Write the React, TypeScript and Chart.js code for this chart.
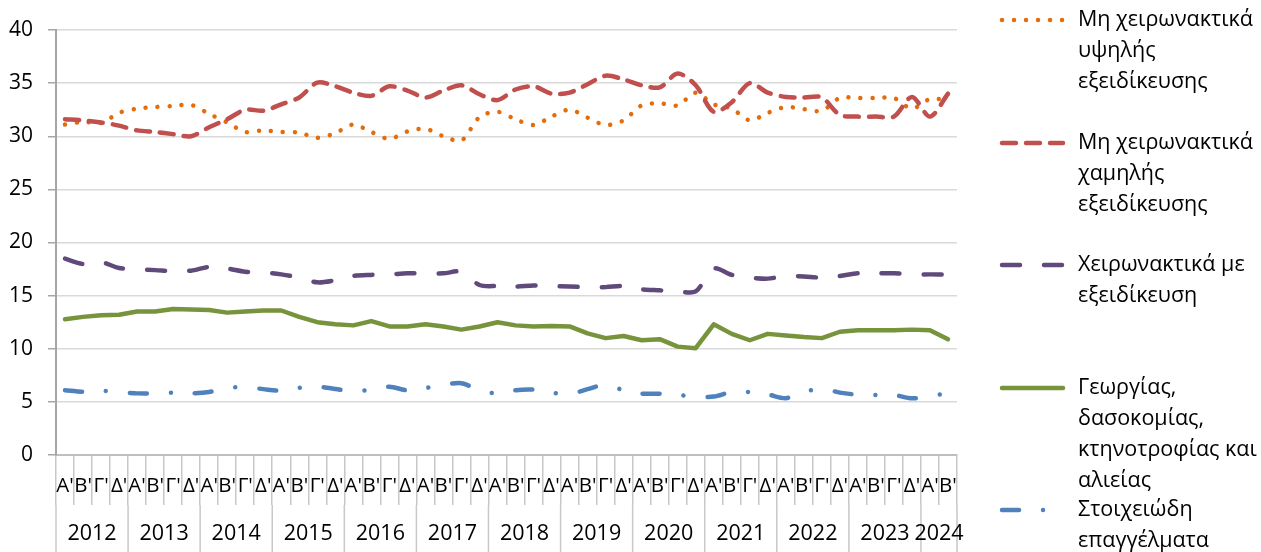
import React, { useEffect, useRef } from 'react';
import { Chart, registerables } from 'chart.js';

Chart.register(...registerables);

// ---- Data ----
const years = ['2012', '2013', '2014', '2015', '2016', '2017', '2018', '2019', '2020', '2021', '2022', '2023', '2024'];
const quartersPerYear = [4, 4, 4, 4, 4, 4, 4, 4, 4, 4, 4, 4, 2];
const quarterNames = ["Α'", "Β'", "Γ'", "Δ'"];
const quarterLabels = years.flatMap((_, k) => quarterNames.slice(0, quartersPerYear[k]));

const highSkillNonManual = [
  31.1, 31.35, 31.25, 32.2, 32.6, 32.75, 32.85, 32.95, 32.1, 31.3, 30.4, 30.55,
  30.4, 30.35, 29.85, 30.3, 31.1, 30.4, 29.75, 30.45, 30.7, 30.0, 29.6, 31.8,
  32.3, 31.6, 31.05, 31.85, 32.5, 31.75, 31.05, 31.5, 32.9, 33.1, 32.9, 34.1,
  33.0, 32.6, 31.5, 32.2, 32.75, 32.55, 32.4, 33.6, 33.6, 33.6, 33.6, 32.6,
  33.5, 33.4,
];
const lowSkillNonManual = [
  31.6, 31.5, 31.3, 31.0, 30.55, 30.4, 30.2, 30.0, 30.85, 31.6, 32.5, 32.4,
  33.0, 33.65, 35.05, 34.7, 34.1, 33.8, 34.7, 34.3, 33.65, 34.3, 34.8, 33.95,
  33.4, 34.4, 34.7, 34.0, 34.1, 34.9, 35.7, 35.35, 34.8, 34.6, 35.9, 34.8,
  32.3, 33.2, 35.0, 34.1, 33.7, 33.65, 33.65, 32.0, 31.85, 31.85, 31.85, 33.7,
  31.85, 34.0,
];
const skilledManual = [
  18.48, 17.98, 18.15, 17.6, 17.47, 17.4, 17.3, 17.35, 17.7, 17.55, 17.25, 17.2,
  17.0, 16.7, 16.25, 16.45, 16.85, 16.95, 17.0, 17.1, 17.1, 17.1, 17.25, 16.0,
  15.9, 15.85, 15.95, 15.9, 15.85, 15.8, 15.8, 15.9, 15.6, 15.5, 15.4, 15.4,
  17.55, 16.95, 16.7, 16.6, 16.85, 16.8, 16.7, 16.85, 17.1, 17.1, 17.1, 17.0,
  17.0, 17.0,
];
const agriculture = [
  12.77, 13.0, 13.15, 13.2, 13.5, 13.5, 13.74, 13.7, 13.65, 13.4, 13.5, 13.6,
  13.6, 13.0, 12.5, 12.3, 12.2, 12.6, 12.1, 12.1, 12.3, 12.1, 11.8, 12.1,
  12.5, 12.2, 12.1, 12.15, 12.1, 11.45, 11.0, 11.2, 10.8, 10.9, 10.2, 10.05,
  12.3, 11.4, 10.8, 11.4, 11.25, 11.1, 11.0, 11.6, 11.75, 11.75, 11.75, 11.8,
  11.75, 10.9,
];
const elementary = [
  6.1, 5.96, 6.05, 5.93, 5.8, 5.8, 5.87, 5.8, 5.93, 6.3, 6.4, 6.2,
  6.05, 6.33, 6.43, 6.22, 5.96, 6.18, 6.43, 6.09, 6.3, 6.6, 6.75, 6.1,
  5.8, 6.1, 6.15, 5.87, 5.74, 6.2, 6.6, 6.09, 5.78, 5.77, 5.65, 5.5,
  5.5, 5.93, 5.93, 5.7, 5.35, 5.93, 6.24, 5.87, 5.68, 5.65, 5.65, 5.33,
  5.58, 5.8,
];

const seriesNames = [
  ['Μη χειρωνακτικά', 'υψηλής', 'εξειδίκευσης'],
  ['Μη χειρωνακτικά', 'χαμηλής', 'εξειδίκευσης'],
  ['Χειρωνακτικά με', 'εξειδίκευση'],
  ['Γεωργίας,', 'δασοκομίας,', 'κτηνοτροφίας και', 'αλιείας'],
  ['Στοιχειώδη', 'επαγγέλματα'],
];

const FONT = "'Open Sans', 'Noto Sans', sans-serif";

// Year grouping + separators under the category axis
const yearAxisPlugin = {
  id: 'yearAxis',
  afterDraw(chart: any) {
    const ctx = chart.ctx;
    const xs = chart.scales.x;
    const half = (xs.getPixelForValue(1) - xs.getPixelForValue(0)) / 2;
    const top = chart.chartArea.bottom + 50;
    const bottom = chart.height;
    ctx.save();
    ctx.strokeStyle = '#c8c8c8';
    ctx.lineWidth = 1.5;
    ctx.fillStyle = '#000';
    ctx.font = `21.5px ${FONT}`;
    ctx.textAlign = 'center';
    ctx.textBaseline = 'middle';
    let start = 0;
    years.forEach((yr, k) => {
      const n = quartersPerYear[k];
      const l = xs.getPixelForValue(start) - half;
      const r = xs.getPixelForValue(start + n - 1) + half;
      ctx.beginPath();
      ctx.moveTo(l, top);
      ctx.lineTo(l, bottom);
      if (k === years.length - 1) {
        ctx.moveTo(r, top);
        ctx.lineTo(r, bottom);
      }
      ctx.stroke();
      ctx.fillText(yr, (l + r) / 2, chart.chartArea.bottom + 79);
      start += n;
    });
    ctx.restore();
  },
};

// Side legend with wrapped names
const sideLegendPlugin = {
  id: 'sideLegend',
  afterDraw(chart: any) {
    const ctx = chart.ctx;
    const rows = [20, 143, 265, 388, 510];
    const x0 = chart.chartArea.right + 45;
    const x1 = x0 + 61;
    const tx = chart.chartArea.right + 121;
    chart.data.datasets.forEach((ds: any, i: number) => {
      const y = rows[i];
      ctx.save();
      ctx.strokeStyle = ds.borderColor;
      ctx.lineWidth = ds.borderWidth;
      ctx.lineCap = 'round';
      ctx.setLineDash(ds.borderDash || []);
      ctx.beginPath();
      ctx.moveTo(x0, y);
      ctx.lineTo(x1, y);
      ctx.stroke();
      ctx.restore();
      ctx.save();
      ctx.fillStyle = '#000';
      ctx.font = `21.5px ${FONT}`;
      ctx.textBaseline = 'middle';
      ctx.textAlign = 'left';
      seriesNames[i].forEach((t, j) => ctx.fillText(t, tx, y + j * 31));
      ctx.restore();
    });
  },
};

export default function App() {
  const ref = useRef<HTMLCanvasElement>(null);
  useEffect(() => {
    if (!ref.current) return;
    Chart.defaults.font.family = FONT;
    Chart.defaults.font.size = 21;
    Chart.defaults.color = '#000';
    const common = {
      pointRadius: 0,
      pointHoverRadius: 0,
      fill: false,
      borderWidth: 4.5,
      borderCapStyle: 'round',
      borderJoinStyle: 'round',
    };
    const chart = new Chart(ref.current, {
      type: 'line',
      data: {
        labels: quarterLabels,
        datasets: [
          { ...common, label: seriesNames[0].join(' '), data: highSkillNonManual, borderColor: '#E46C0A', borderDash: [0.01, 12], tension: 0.3, order: 2 },
          { ...common, label: seriesNames[1].join(' '), data: lowSkillNonManual, borderColor: '#C0504D', borderDash: [14, 10], tension: 0.3, order: 1 },
          { ...common, label: seriesNames[2].join(' '), data: skilledManual, borderColor: '#604A7B', borderDash: [18, 24], tension: 0.3 },
          { ...common, label: seriesNames[3].join(' '), data: agriculture, borderColor: '#77933C', tension: 0 },
          { ...common, label: seriesNames[4].join(' '), data: elementary, borderColor: '#4F81BD', borderDash: [17, 24, 0.01, 24], tension: 0.3 },
        ],
      },
      options: {
        responsive: false,
        animation: false,
        layout: { padding: { top: 30, right: 304, left: 0, bottom: 0 } },
        plugins: { legend: { display: false }, tooltip: { enabled: false } },
        scales: {
          x: {
            type: 'category',
            offset: true,
            grid: { offset: true, drawOnChartArea: false, tickLength: 50, color: '#c8c8c8', lineWidth: 1.5 },
            border: { color: '#bfbfbf', width: 2 },
            ticks: { padding: -31, maxRotation: 0, minRotation: 0, autoSkip: false, color: '#000', font: { size: 20.5 } },
            afterFit: (s: any) => { s.height = 97; },
          },
          y: {
            min: 0,
            max: 40,
            ticks: { stepSize: 5, padding: 15, color: '#000', font: { size: 21 } },
            grid: { color: '#d9d9d9', lineWidth: 1.5, tickLength: 8, tickColor: '#a6a6a6' },
            border: { color: '#a6a6a6', width: 2 },
            afterFit: (s: any) => { s.width = 56; },
          },
        },
      } as any,
      plugins: [yearAxisPlugin, sideLegendPlugin],
    });
    return () => chart.destroy();
  }, []);
  return (
    <div style={{ position: 'absolute', left: 0, top: 0, width: 1261, height: 552, background: '#fff' }}>
      <canvas ref={ref} width={1261} height={552} style={{ display: 'block' }} />
    </div>
  );
}
